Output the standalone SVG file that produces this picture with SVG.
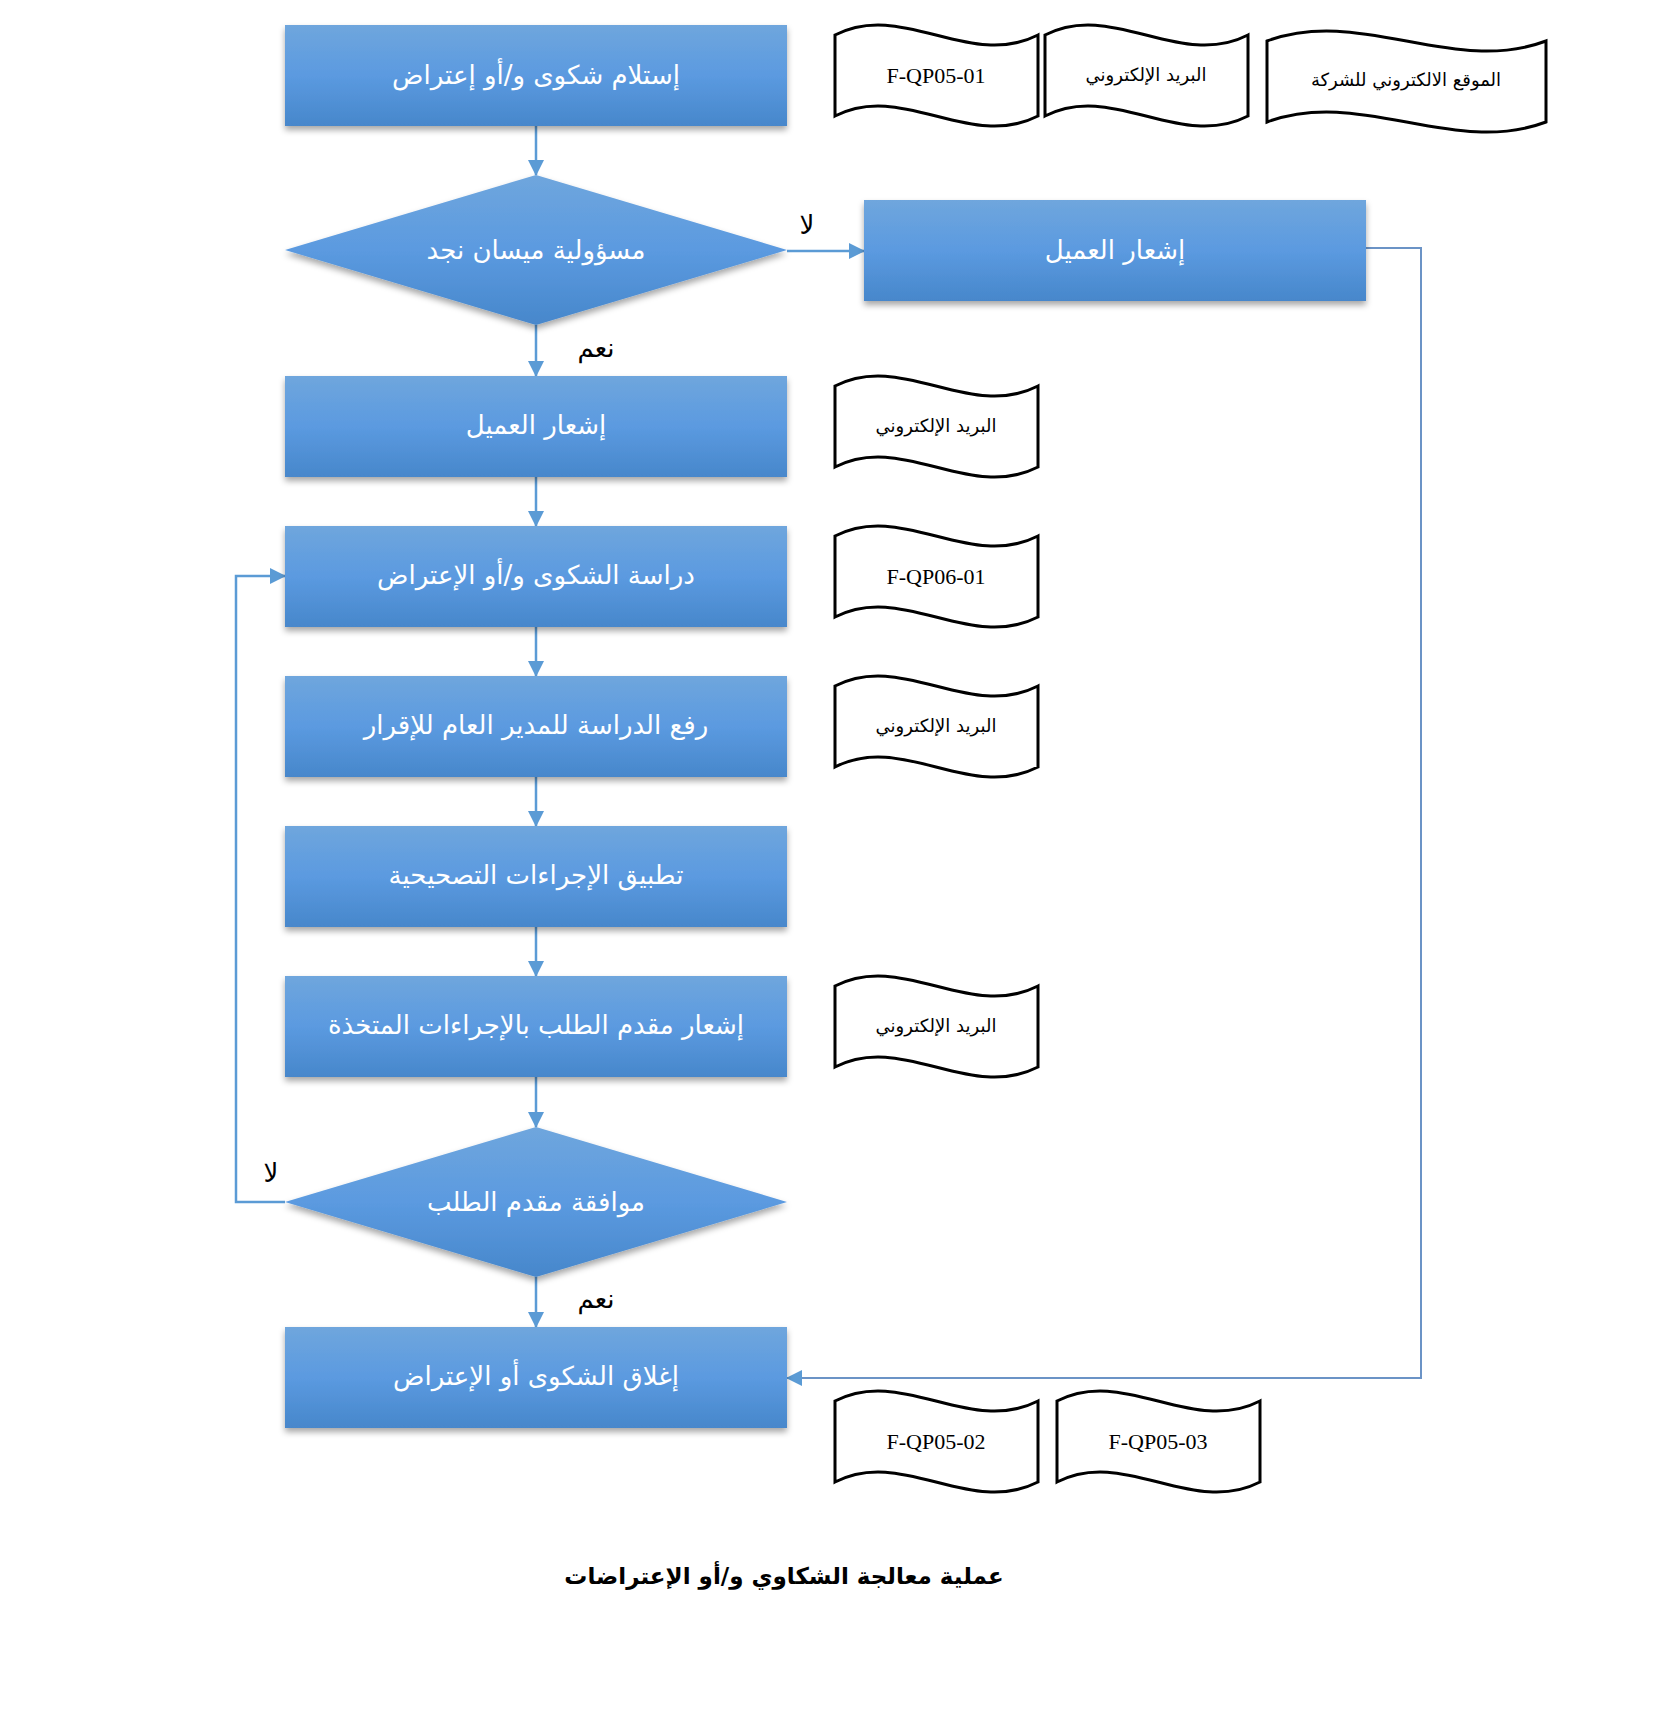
<svg xmlns="http://www.w3.org/2000/svg" width="1654" height="1715" viewBox="0 0 1654 1715">
<defs>
<linearGradient id="g" x1="0" y1="0" x2="0" y2="1">
<stop offset="0" stop-color="#6fa6dd"/>
<stop offset="0.5" stop-color="#5b9ae0"/>
<stop offset="1" stop-color="#4787cb"/>
</linearGradient>
<filter id="sh" x="-5%" y="-10%" width="110%" height="130%">
<feDropShadow dx="0" dy="4" stdDeviation="3" flood-color="#000" flood-opacity="0.35"/>
</filter>
<marker id="ah2" markerWidth="16" markerHeight="16" refX="15" refY="8" orient="auto" markerUnits="userSpaceOnUse" viewBox="0 0 16 16">
<path d="M0,0 L16,8 L0,16 Z" fill="#5b9bd5"/>
</marker>
</defs>
<style>
.box{fill:url(#g);filter:url(#sh);}
.bt{fill:#fff;font-family:"DejaVu Sans",sans-serif;font-size:26px;text-anchor:middle;direction:rtl;}
.doc{fill:#fff;stroke:#000;stroke-width:3;}
.dt{fill:#000;font-family:"Liberation Serif",serif;font-size:22px;text-anchor:middle;}
.da{fill:#000;font-family:"DejaVu Sans",sans-serif;font-size:18px;text-anchor:middle;direction:rtl;}
.lbl{fill:#000;font-family:"DejaVu Sans",sans-serif;font-size:26px;text-anchor:middle;direction:rtl;}
.ttl{fill:#000;font-family:"DejaVu Sans",sans-serif;font-size:23px;font-weight:bold;text-anchor:middle;direction:rtl;}
.c{fill:none;stroke:#5b9bd5;stroke-width:2.5;}
.c2{fill:none;stroke:#6b93c6;stroke-width:2;}
</style>

<g id="connectors">
<line class="c" x1="536" y1="126" x2="536" y2="175" marker-end="url(#ah2)"/>
<line class="c" x1="536" y1="325" x2="536" y2="376" marker-end="url(#ah2)"/>
<line class="c" x1="536" y1="477" x2="536" y2="526" marker-end="url(#ah2)"/>
<line class="c" x1="536" y1="627" x2="536" y2="676" marker-end="url(#ah2)"/>
<line class="c" x1="536" y1="777" x2="536" y2="826" marker-end="url(#ah2)"/>
<line class="c" x1="536" y1="927" x2="536" y2="976" marker-end="url(#ah2)"/>
<line class="c" x1="536" y1="1077" x2="536" y2="1127" marker-end="url(#ah2)"/>
<line class="c" x1="536" y1="1277" x2="536" y2="1327" marker-end="url(#ah2)"/>
<line class="c" x1="787" y1="251" x2="864" y2="251" marker-end="url(#ah2)"/>
<polyline class="c" points="285,1202 236,1202 236,576 285,576" marker-end="url(#ah2)"/>
<polyline class="c2" points="1366,248 1421,248 1421,1378 787,1378" marker-end="url(#ah2)"/>
</g>

<g id="n1"><rect class="box" x="285" y="25" width="502" height="101"/><text class="bt" x="536" y="84">إستلام شكوى و/أو إعتراض</text></g>
<g id="d1"><polygon class="box" points="536,175 787,250 536,325 285,250"/><text class="bt" x="536" y="259">مسؤولية ميسان نجد</text></g>
<g id="r1"><rect class="box" x="864" y="200" width="502" height="101"/><text class="bt" x="1115" y="259">إشعار العميل</text></g>
<g id="n2"><rect class="box" x="285" y="376" width="502" height="101"/><text class="bt" x="536" y="434">إشعار العميل</text></g>
<g id="n3"><rect class="box" x="285" y="526" width="502" height="101"/><text class="bt" x="536" y="584">دراسة الشكوى و/أو الإعتراض</text></g>
<g id="n4"><rect class="box" x="285" y="676" width="502" height="101"/><text class="bt" x="536" y="734">رفع الدراسة للمدير العام للإقرار</text></g>
<g id="n5"><rect class="box" x="285" y="826" width="502" height="101"/><text class="bt" x="536" y="884">تطبيق الإجراءات التصحيحية</text></g>
<g id="n6"><rect class="box" x="285" y="976" width="502" height="101"/><text class="bt" x="536" y="1034">إشعار مقدم الطلب بالإجراءات المتخذة</text></g>
<g id="d2"><polygon class="box" points="536,1127 787,1202 536,1277 285,1202"/><text class="bt" x="536" y="1211">موافقة مقدم الطلب</text></g>
<g id="n7"><rect class="box" x="285" y="1327" width="502" height="101"/><text class="bt" x="536" y="1385">إغلاق الشكوى أو الإعتراض</text></g>

<g id="doc1"><path class="doc" d="M835,35 C902,0 970,70 1038,35 L1038,116 C970,151 902,81 835,116 Z"/><text class="dt" x="936" y="83">F-QP05-01</text></g>
<g id="doc2"><path class="doc" d="M1045,35 C1112,0 1180,70 1248,35 L1248,116 C1180,151 1112,81 1045,116 Z"/><text class="da" x="1146" y="81">البريد الإلكتروني</text></g>
<g id="doc3"><path class="doc" d="M1267,41 C1360,6 1453,76 1546,41 L1546,122 C1453,157 1360,87 1267,122 Z"/><text class="da" x="1406" y="86">الموقع الالكتروني للشركة</text></g>
<g id="doc4"><path class="doc" d="M835,386 C902,351 970,421 1038,386 L1038,467 C970,502 902,432 835,467 Z"/><text class="da" x="936" y="432">البريد الإلكتروني</text></g>
<g id="doc5"><path class="doc" d="M835,536 C902,501 970,571 1038,536 L1038,617 C970,652 902,582 835,617 Z"/><text class="dt" x="936" y="584">F-QP06-01</text></g>
<g id="doc6"><path class="doc" d="M835,686 C902,651 970,721 1038,686 L1038,767 C970,802 902,732 835,767 Z"/><text class="da" x="936" y="732">البريد الإلكتروني</text></g>
<g id="doc7"><path class="doc" d="M835,986 C902,951 970,1021 1038,986 L1038,1067 C970,1102 902,1032 835,1067 Z"/><text class="da" x="936" y="1032">البريد الإلكتروني</text></g>
<g id="doc8"><path class="doc" d="M835,1401 C902,1366 970,1436 1038,1401 L1038,1482 C970,1517 902,1447 835,1482 Z"/><text class="dt" x="936" y="1449">F-QP05-02</text></g>
<g id="doc9"><path class="doc" d="M1057,1401 C1124,1366 1192,1436 1260,1401 L1260,1482 C1192,1517 1124,1447 1057,1482 Z"/><text class="dt" x="1158" y="1449">F-QP05-03</text></g>

<g id="labels">
<text class="lbl" x="807" y="234">لا</text>
<text class="lbl" x="596" y="357">نعم</text>
<text class="lbl" x="271" y="1182">لا</text>
<text class="lbl" x="596" y="1308">نعم</text>
</g>
<text class="ttl" x="784" y="1584">عملية معالجة الشكاوي و/أو الإعتراضات</text>
</svg>
